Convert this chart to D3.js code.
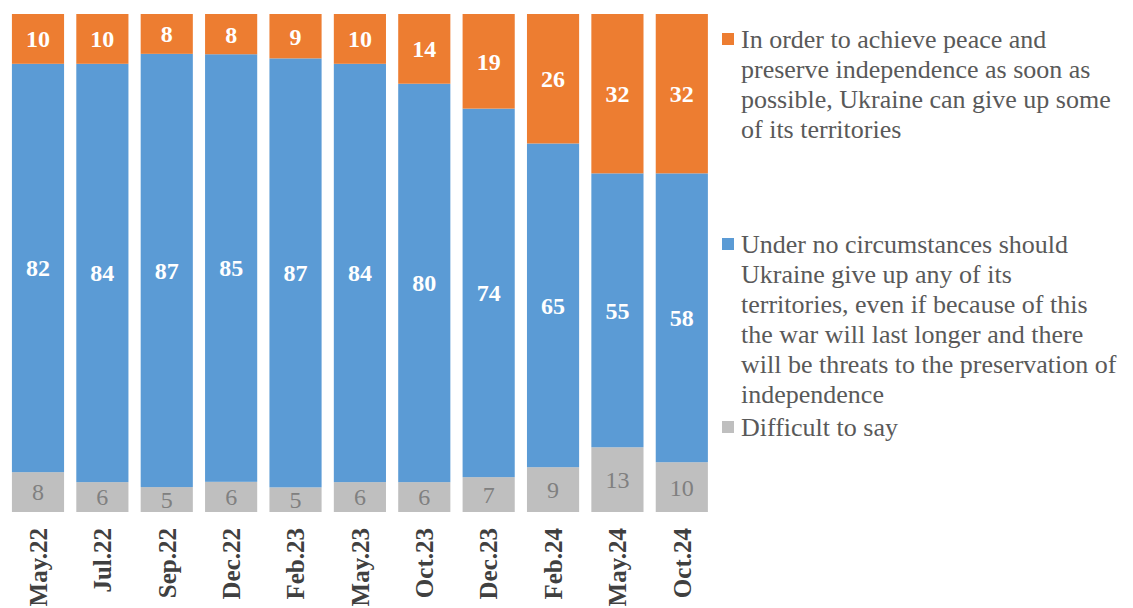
<!DOCTYPE html>
<html>
<head>
<meta charset="utf-8">
<script src="https://cdn.jsdelivr.net/npm/d3@7"></script>
<style>
  body { margin: 0; background: #fff; }
</style>
</head>
<body>
<svg width="1133" height="608"></svg>
<script>
const waves = ["May.22", "Jul.22", "Sep.22", "Dec.22", "Feb.23", "May.23", "Oct.23", "Dec.23", "Feb.24", "May.24", "Oct.24"];
const giveUp = [10, 10, 8, 8, 9, 10, 14, 19, 26, 32, 32];
const never = [82, 84, 87, 85, 87, 84, 80, 74, 65, 55, 58];
const difficult = [8, 6, 5, 6, 5, 6, 6, 7, 9, 13, 10];

const seriesKeys = ["difficult", "never", "giveUp"];
const colors = { giveUp: "#ED7D31", never: "#5B9BD5", difficult: "#BFBFBF" };
const legendLines = {
  giveUp: ["In order to achieve peace and", "preserve independence as soon as", "possible, Ukraine can give up some", "of its territories"],
  never: ["Under no circumstances should", "Ukraine give up any of its", "territories, even if because of this", "the war will last longer and there", "will be threats to the preservation of", "independence"],
  difficult: ["Difficult to say"]
};

const serif = "Liberation Serif";
const svg = d3.select("svg");

const rows = waves.map((w, i) => ({ wave: w, giveUp: giveUp[i], never: never[i], difficult: difficult[i] }));
const stacked = d3.stack().keys(seriesKeys).offset(d3.stackOffsetExpand)(rows);

const x = d3.scaleBand().domain(waves).range([5.8, 714]).paddingInner(0.19).paddingOuter(0.095);
const y = d3.scaleLinear().domain([0, 1]).range([512, 14]);

const g = svg.append("g");

const layer = g.selectAll(".layer")
  .data(stacked)
  .enter()
  .append("g")
  .attr("class", "layer")
  .attr("fill", d => colors[d.key]);

layer.selectAll("rect")
  .data(d => d)
  .enter()
  .append("rect")
  .attr("x", d => x(d.data.wave))
  .attr("y", d => y(d[1]))
  .attr("width", x.bandwidth())
  .attr("height", d => y(d[0]) - y(d[1]));

// value labels
layer.each(function(s) {
  const isGray = s.key === "difficult";
  d3.select(this).selectAll("text")
    .data(s)
    .enter()
    .append("text")
    .attr("x", d => x(d.data.wave) + x.bandwidth() / 2)
    .attr("y", d => (y(d[0]) + y(d[1])) / 2)
    .attr("dy", "0.35em")
    .attr("text-anchor", "middle")
    .attr("font-family", serif)
    .attr("font-size", "24px")
    .attr("font-weight", isGray ? "normal" : "bold")
    .attr("fill", isGray ? "#808080" : "#fff")
    .text(d => d.data[s.key]);
});

// x axis labels
const xAxis = g.append("g")
  .attr("transform", "translate(0,528)")
  .call(d3.axisBottom(x).tickSize(0).tickPadding(0));
xAxis.select(".domain").remove();
xAxis.selectAll("text")
  .attr("transform", "rotate(-90)")
  .attr("x", 0)
  .attr("y", 0)
  .attr("dy", "0.35em")
  .attr("text-anchor", "end")
  .attr("font-family", serif)
  .attr("font-size", "25px")
  .attr("font-weight", "bold")
  .attr("fill", "#404040");

// legend
const legendOrder = ["giveUp", "never", "difficult"];
const legendTop = { giveUp: 39, never: 244, difficult: 427 };
const lineH = 30;

const legend = svg.append("g");
legendOrder.forEach(k => {
  legend.append("rect")
    .attr("x", 722)
    .attr("y", legendTop[k] - 6)
    .attr("width", 12)
    .attr("height", 12)
    .attr("fill", colors[k]);
  legendLines[k].forEach((line, i) => {
    legend.append("text")
      .attr("x", 741)
      .attr("y", legendTop[k] + i * lineH)
      .attr("dy", "0.35em")
      .attr("font-family", serif)
      .attr("font-size", "26px")
      .attr("fill", "#595959")
      .text(line);
  });
});
</script>
</body>
</html>
